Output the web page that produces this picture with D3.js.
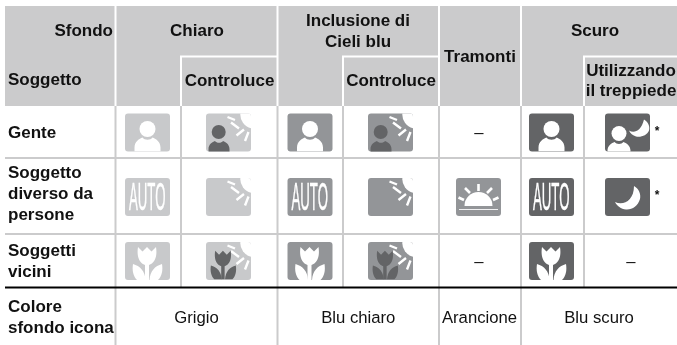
<!DOCTYPE html>
<html>
<head>
<meta charset="utf-8">
<script src="https://d3js.org/d3.v7.min.js"></script>
<style>
    html, body { margin: 0; padding: 0; background: #fff; }
    svg { display: block; will-change: transform; }
    text { font-family: "Liberation Sans", Arial, sans-serif; font-size: 16.7px; fill: #111; }
    .bold { font-weight: bold; font-size: 17px; }
</style>
</head>
<body>
<svg id="table" width="677" height="345"></svg>
<script>
    // table content
    const columns = ["chiaro", "chiaroControluce", "cieli", "cieliControluce", "tramonti", "scuro", "scuroTreppiede"];
    const rows = ["gente", "diverso", "vicini"];
    const rowLabels = [["Gente"], ["Soggetto", "diverso da", "persone"], ["Soggetti", "vicini"]];
    const colourLabels = ["Grigio", "Blu chiaro", "Arancione", "Blu scuro"];
    const colourSpans = [["chiaro", "chiaroControluce"], ["cieli", "cieliControluce"], ["tramonti", "tramonti"], ["scuro", "scuroTreppiede"]];

    // icon in each cell, null is a dash
    const iconsGente = ["person", "backPerson", "person", "backPerson", null, "person", "nightPerson"];
    const iconsDiverso = ["auto", "back", "auto", "back", "sunset", "auto", "night"];
    const iconsVicini = ["tulip", "backTulip", "tulip", "backTulip", null, "tulip", null];
    const iconRows = [iconsGente, iconsDiverso, iconsVicini];
    const iconTones = ["#c8c9cb", "#c8c9cb", "#939598", "#939598", "#939598", "#636466", "#636466"];
    const starred = ["gente|scuroTreppiede", "diverso|scuroTreppiede"];

    const svg = d3.select("#table");
    const gray = "#cbcbcc";
    const iconW = 45, iconH = 38;

    const colLeft = d3.scaleOrdinal().domain(columns).range([115.5, 181, 277.5, 343, 439, 521, 584]);
    const colRight = d3.scaleOrdinal().domain(columns).range([181, 277.5, 343, 439, 521, 584, 677]);
    const iconCentre = d3.scaleOrdinal().domain(columns).range([147.5, 228.5, 310, 390.5, 478.5, 551.5, 627.5]);
    const dashCentre = d3.scaleOrdinal().domain(columns).range([148, 229, 310, 391, 479, 552, 631]);
    const rowTop = d3.scaleOrdinal().domain(rows).range([113.5, 178, 242]);
    const labelBase = d3.scaleOrdinal().domain(rows).range([138, 178, 256]);

    function rect(x, y, w, h, fill) {
        svg.append("rect").attr("x", x).attr("y", y).attr("width", w).attr("height", h).attr("fill", fill);
    }
    function label(str, x, y, anchor, bold) {
        svg.append("text").attr("x", x).attr("y", y).attr("text-anchor", anchor)
            .attr("class", bold ? "bold" : null).text(str);
    }

    // header block and its white rules
    rect(5, 6, 672, 100, gray);
    [115.5, 277.5, 439, 521].forEach(x => rect(x - 1, 6, 2, 100, "#fff"));
    [181, 343, 584].forEach(x => rect(x - 1, 56, 2, 50, "#fff"));
    [[181, 277.5], [343, 439], [584, 677]].forEach(d => rect(d[0] - 1, 55.5, d[1] - d[0] + 1, 2, "#fff"));

    // body rules
    [115.5, 277.5, 439, 521].forEach(x => rect(x - 1, 106, 2, 239, gray));
    [181, 343, 584].forEach(x => rect(x - 1, 106, 2, 182, gray));
    [158, 234].forEach(y => rect(5, y - 1, 672, 2, gray));
    rect(5, 286.5, 672, 2, "#000");

    // header text
    label("Sfondo", 113, 36, "end", true);
    label("Soggetto", 8, 85, "start", true);
    label("Chiaro", 197, 36, "middle", true);
    label("Controluce", 229.5, 85.5, "middle", true);
    label("Inclusione di", 358, 26, "middle", true);
    label("Cieli blu", 358, 46.5, "middle", true);
    label("Controluce", 391, 85.5, "middle", true);
    label("Tramonti", 480, 62, "middle", true);
    label("Scuro", 595, 36, "middle", true);
    label("Utilizzando", 631, 75.5, "middle", true);
    label("il treppiede", 631, 96, "middle", true);

    // row labels
    rowLabels.forEach((lines, i) => {
        lines.forEach((line, j) => label(line, 8, labelBase(rows[i]) + j * 21, "start", true));
    });
    label("Colore", 8, 312, "start", true);
    label("sfondo icona", 8, 333, "start", true);
    colourLabels.forEach((name, i) => {
        const span = colourSpans[i];
        label(name, (colLeft(span[0]) + colRight(span[1])) / 2 + (name === "Arancione" ? -0.5 : 0), 323, "middle", false);
    });

    // icon parts, drawn in a 45x38 box
    const personBody = (g, fill, dx, dy, w) => {
        const k = w / 26;
        g.append("path")
            .attr("transform", `translate(${dx},${dy}) scale(${k})`)
            .attr("d", "M0,14 V10 C0,4 5,1 8,0 C10,3 16,3 18,0 C21,1 26,4 26,10 V14 Z")
            .attr("fill", fill);
    };
    const rays = g => {
        g.append("path").attr("d", "M46,-1 H34.5 A14,14 0 0 0 46,15 Z").attr("fill", "#fff");
        g.append("path")
            .attr("d", "M21.5,3.5 L29,6.5 M25,9 L33,15 M30.5,22 L38,16 M39,27.5 L42.5,18.5")
            .attr("stroke", "#fff").attr("stroke-width", 2.4).attr("fill", "none");
    };
    const moon = (g, d) => g.append("path").attr("d", d).attr("fill", "#fff");
    const tulip = (g, fill) => {
        g.append("path")
            .attr("d", "M13,5 L17.5,9.5 L22,5 L26.5,9.5 L31,5 C32.5,14 30,21 24,23 L24,38 L20,38 L20,23 C14,21 11.5,14 13,5 Z")
            .attr("fill", fill);
        g.append("path").attr("d", "M8,22 C15,24 20,29 20.5,38 L12,38 C8,34 7,28 8,22 Z").attr("fill", fill);
        g.append("path").attr("d", "M37,22 C30,24 25,29 24.5,38 L33,38 C37,34 38,28 37,22 Z").attr("fill", fill);
    };

    const iconDraw = {
        person: g => {
            g.append("circle").attr("cx", 22.5).attr("cy", 15.5).attr("r", 8).attr("fill", "#fff");
            personBody(g, "#fff", 9.5, 24, 26);
        },
        backPerson: g => {
            rays(g);
            g.append("circle").attr("cx", 12.7).attr("cy", 18.5).attr("r", 7).attr("fill", "#636466");
            personBody(g, "#636466", 2.5, 27.5, 21);
        },
        nightPerson: g => {
            moon(g, "M24,17 C29,20 36,18 39,6 C44,9 45,14 44,17 C42,22 36,24 31,23 C28,22 25,20 24,17 Z");
            g.append("circle").attr("cx", 14).attr("cy", 20).attr("r", 7.5).attr("fill", "#fff");
            personBody(g, "#fff", 2.5, 28.5, 23);
        },
        auto: g => {
            g.append("text").attr("x", 22.2).attr("y", 32.3).attr("text-anchor", "middle")
                .attr("textLength", 36.5).attr("lengthAdjust", "spacingAndGlyphs")
                .style("font-family", "'Liberation Sans Narrow', 'Liberation Sans', sans-serif")
                .style("font-size", "39.5px").style("fill", "#fff")
                .attr("stroke", "#fff").attr("stroke-width", 0.5).text("AUTO");
        },
        back: rays,
        sunset: g => {
            g.append("path").attr("d", "M8.5,28 A14,14 0 0 1 36.5,28 Z").attr("fill", "#fff");
            g.append("path").attr("d", "M3,31.5 H42").attr("stroke", "#f1f1f2").attr("stroke-width", 1);
            g.append("path")
                .attr("d", "M22.5,6 V13 M9,10 L14,15 M36,10 L31,15 M2.5,19.5 L8,22 M42.5,19.5 L37,22")
                .attr("stroke", "#fff").attr("stroke-width", 2.6).attr("fill", "none");
        },
        night: g => moon(g, "M10,24 C18,28 29,23 29,8 C34,11 36,16 35,21 C33,28 27,32 21,31.5 C16,31 12,28 10,24 Z"),
        tulip: g => tulip(g, "#fff"),
        backTulip: g => {
            rays(g);
            g.append("g").attr("transform", "translate(-2,4.5) scale(0.86)").call(tulip, "#636466");
        }
    };

    // cells
    rows.forEach((row, r) => {
        columns.forEach((col, c) => {
            const kind = iconRows[r][c];
            const y = rowTop(row);
            if (kind === null) {
                label("–", dashCentre(col), y + 24.5, "middle", false);
                return;
            }
            const x = iconCentre(col) - iconW / 2;
            const g = svg.append("g").attr("transform", `translate(${x},${y})`);
            const clipId = `clip-${r}-${c}`;
            g.append("clipPath").attr("id", clipId)
                .append("rect").attr("width", iconW).attr("height", iconH).attr("rx", 3);
            g.append("rect").attr("width", iconW).attr("height", iconH).attr("rx", 3).attr("fill", iconTones[c]);
            iconDraw[kind](g.append("g").attr("clip-path", `url(#${clipId})`));
            if (starred.includes(`${row}|${col}`)) {
                svg.append("text").attr("x", x + iconW + 7).attr("y", y + 21).attr("text-anchor", "middle")
                    .attr("class", "bold").style("font-size", "12px").text("*");
            }
        });
    });
</script>
</body>
</html>
